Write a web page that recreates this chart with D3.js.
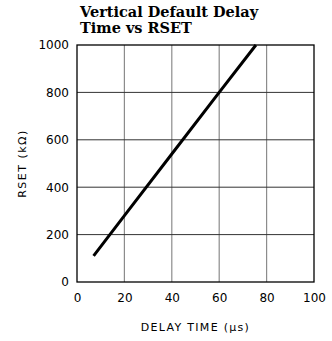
<!DOCTYPE html>
<html>
<head>
<meta charset="utf-8">
<script src="https://cdn.jsdelivr.net/npm/d3@7"></script>
<style>
  body { margin: 0; background: #fff; }
  .tick text { font-family: "DejaVu Sans", sans-serif; font-size: 12px; fill: #000; }
</style>
</head>
<body>
<div id="chart"></div>
<script>
// chart data
var delayTime = [7, 20, 40, 60, 75.5];       // us
var rsetValues = [110, 280, 540, 800, 1000]; // kOhm
var xTicks = [0, 20, 40, 60, 80, 100];
var yTicks = [0, 200, 400, 600, 800, 1000];
var titleLines = ["Vertical Default Delay", "Time vs RSET"];

var margin = {top: 45, right: 18, bottom: 59, left: 77},
    width = 332 - margin.left - margin.right,
    height = 341 - margin.top - margin.bottom;

var svg = d3.select("#chart")
    .append("svg")
    .attr("width", 332)
    .attr("height", 341);

var g = svg.append("g")
    .attr("transform", "translate(" + margin.left + "," + margin.top + ")");

var x = d3.scaleLinear().domain([0, 100]).range([0, width]);
var y = d3.scaleLinear().domain([0, 1000]).range([height, 0]);

// vertical grid (gray)
g.append("g")
  .selectAll("line")
  .data(xTicks.slice(1, -1))
  .enter().append("line")
    .attr("x1", function(d) { return x(d); })
    .attr("x2", function(d) { return x(d); })
    .attr("y1", 0)
    .attr("y2", height)
    .style("stroke", "#8c8c8c")
    .style("stroke-width", 1.2);

// horizontal grid (darker)
g.append("g")
  .selectAll("line")
  .data(yTicks.slice(1, -1))
  .enter().append("line")
    .attr("x1", 0)
    .attr("x2", width)
    .attr("y1", function(d) { return y(d); })
    .attr("y2", function(d) { return y(d); })
    .style("stroke", "#333")
    .style("stroke-width", 1);

// frame
g.append("rect")
  .attr("width", width)
  .attr("height", height)
  .style("fill", "none")
  .style("stroke", "#000")
  .style("stroke-width", 1.3);

// axes, tick labels only
var xAxis = g.append("g")
  .attr("transform", "translate(0," + height + ")")
  .call(d3.axisBottom(x).tickValues(xTicks).tickFormat(d3.format("d")).tickSize(0).tickPadding(11));
xAxis.select(".domain").remove();

var yAxis = g.append("g")
  .call(d3.axisLeft(y).tickValues(yTicks).tickFormat(d3.format("d")).tickSize(0).tickPadding(8));
yAxis.select(".domain").remove();

// the curve
var line = d3.line()
  .x(function(d, i) { return x(delayTime[i]); })
  .y(function(d) { return y(d); });

g.append("path")
  .datum(rsetValues)
  .attr("d", line)
  .style("fill", "none")
  .style("stroke", "#000")
  .style("stroke-width", 3);

// title, one text per line
svg.selectAll(".title")
  .data(titleLines)
  .enter().append("text")
    .attr("class", "title")
    .attr("x", 80)
    .attr("y", function(d, i) { return 17 + i * 16; })
    .style("font-family", "'DejaVu Serif', serif")
    .style("font-weight", "bold")
    .style("font-size", "14.5px")
    .text(function(d) { return d; });

// axis labels
svg.append("text")
  .attr("x", margin.left + width / 2)
  .attr("y", 331)
  .attr("text-anchor", "middle")
  .style("font-family", "'DejaVu Sans', sans-serif")
  .style("font-size", "11px")
  .style("letter-spacing", "1.3px")
  .text("DELAY TIME (\u03BCs)");

svg.append("text")
  .attr("transform", "translate(26," + (margin.top + height / 2) + ") rotate(-90)")
  .attr("text-anchor", "middle")
  .style("font-family", "'DejaVu Sans', sans-serif")
  .style("font-size", "11px")
  .style("letter-spacing", "1.5px")
  .text("RSET (k\u03A9)");
</script>
</body>
</html>
